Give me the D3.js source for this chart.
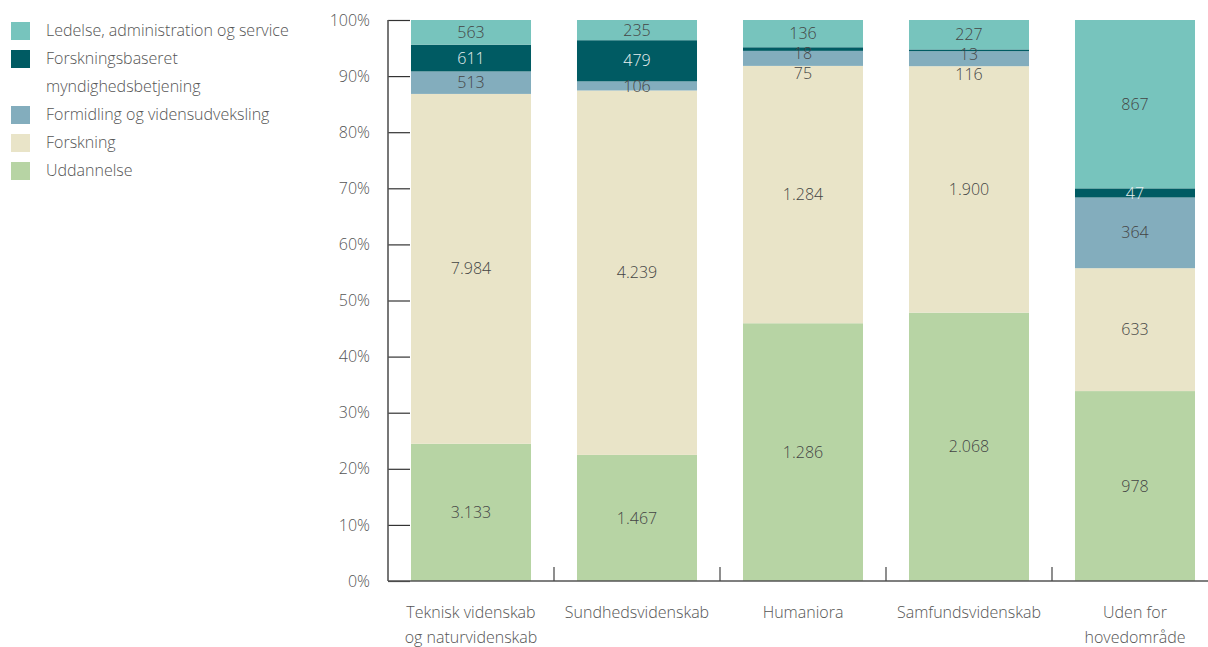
<!DOCTYPE html>
<html>
<head>
<meta charset="utf-8">
<script src="https://cdn.jsdelivr.net/npm/d3@7"></script>
<style>
  body { margin: 0; background: #fff; }
  text { font-family: "Open Sans", sans-serif; font-weight: 300; }
</style>
</head>
<body>
<div id="chart"></div>
<script>
// Données
var categories = ["Teknisk videnskab og naturvidenskab", "Sundhedsvidenskab", "Humaniora", "Samfundsvidenskab", "Uden for hovedområde"];
var catLines = [["Teknisk videnskab", "og naturvidenskab"], ["Sundhedsvidenskab"], ["Humaniora"], ["Samfundsvidenskab"], ["Uden for", "hovedområde"]];
var series = ["Uddannelse", "Forskning", "Formidling og vidensudveksling", "Forskningsbaseret myndighedsbetjening", "Ledelse, administration og service"];
var uddannelse = [3133, 1467, 1286, 2068, 978];
var forskning = [7984, 4239, 1284, 1900, 633];
var formidling = [513, 106, 75, 116, 364];
var myndighed = [611, 479, 18, 13, 47];
var ledelse = [563, 235, 136, 227, 867];
var yTicks = [0, 0.1, 0.2, 0.3, 0.4, 0.5, 0.6, 0.7, 0.8, 0.9, 1];

var colors = ["#b7d4a4", "#e9e4c8", "#83adbd", "#005b63", "#77c4bd"];
var labelColors = ["#444", "#444", "#444", "#e8f0f0", "#444"];

var W = 1208, H = 647;
var svg = d3.select("#chart").append("svg").attr("width", W).attr("height", H);

var values = [uddannelse, forskning, formidling, myndighed, ledelse];
var data = categories.map(function(c, i) {
  var row = {cat: c};
  series.forEach(function(s, j) { row[s] = values[j][i]; });
  return row;
});
var stacked = d3.stack().keys(series).offset(d3.stackOffsetExpand)(data);

var x = d3.scaleBand().domain(categories).range([388, 1218]).paddingInner(0.277).paddingOuter(0.1385);
var y = d3.scaleLinear().domain([0, 1]).range([581, 20]);

// Barres
var layer = svg.append("g").selectAll("g").data(stacked).enter().append("g")
  .attr("fill", function(d, i) { return colors[i]; });
layer.selectAll("rect").data(function(d) { return d; }).enter().append("rect")
  .attr("x", function(d) { return x(d.data.cat); })
  .attr("width", x.bandwidth())
  .attr("y", function(d) { return y(d[1]); })
  .attr("height", function(d) { return y(d[0]) - y(d[1]); });

// Étiquettes (décalées vers le bas si elles se chevauchent)
var fmt = d3.formatLocale({decimal: ",", thousands: ".", grouping: [3], currency: ["", ""]}).format(",");
var labels = [];
categories.forEach(function(c, ci) {
  var prev = -Infinity;
  for (var si = series.length - 1; si >= 0; si--) {
    var d = stacked[si][ci];
    var h = y(d[0]) - y(d[1]);
    var cy = Math.max((y(d[0]) + y(d[1])) / 2, prev + 20);
    prev = cy;
    labels.push({cat: c, y: cy, text: fmt(d.data[series[si]]), color: h > 6 ? labelColors[si] : "#444"});
  }
});
svg.append("g").selectAll("text").data(labels).enter().append("text")
  .attr("x", function(d) { return x(d.cat) + x.bandwidth() / 2; })
  .attr("y", function(d) { return d.y; })
  .attr("dy", "0.35em")
  .attr("text-anchor", "middle")
  .style("font-size", "16px")
  .attr("fill", function(d) { return d.color; })
  .text(function(d) { return d.text; });

// Axe Y
var yAxis = svg.append("g").attr("transform", "translate(388,0)")
  .call(d3.axisLeft(y).tickValues(yTicks).tickFormat(d3.format(".0%")).tickSize(-22).tickPadding(18));
yAxis.select(".domain").remove();
yAxis.selectAll(".tick line").attr("stroke", "#333").attr("stroke-width", 1.2);
yAxis.selectAll(".tick text").style("font-size", "16px").attr("fill", "#555")
  .style("font-family", "'Open Sans', sans-serif").style("font-weight", 300);
svg.append("line").attr("x1", 388).attr("x2", 388).attr("y1", 20).attr("y2", 581)
  .attr("stroke", "#555").attr("stroke-width", 1.6);

// Axe X
svg.append("line").attr("x1", 388).attr("x2", W).attr("y1", 581).attr("y2", 581)
  .attr("stroke", "#555").attr("stroke-width", 1.6);
svg.append("g").selectAll("line").data(d3.range(1, categories.length)).enter().append("line")
  .attr("x1", function(i) { return x.range()[0] + i * x.step(); })
  .attr("x2", function(i) { return x.range()[0] + i * x.step(); })
  .attr("y1", 567).attr("y2", 581)
  .attr("stroke", "#444").attr("stroke-width", 1.2);

var xl = svg.append("g").selectAll("text").data(categories).enter().append("text")
  .attr("x", function(d) { return x(d) + x.bandwidth() / 2; })
  .attr("y", 618)
  .attr("text-anchor", "middle")
  .style("font-size", "16px")
  .attr("fill", "#555");
xl.each(function(d, i) {
  var t = d3.select(this);
  catLines[i].forEach(function(l, k) {
    t.append("tspan").attr("x", x(d) + x.bandwidth() / 2).attr("dy", k ? 25 : 0).text(l);
  });
});

// Légende
var legend = [
  {c: colors[4], lines: ["Ledelse, administration og service"]},
  {c: colors[3], lines: ["Forskningsbaseret", "myndighedsbetjening"]},
  {c: colors[2], lines: ["Formidling og vidensudveksling"]},
  {c: colors[1], lines: ["Forskning"]},
  {c: colors[0], lines: ["Uddannelse"]}
];
var ly = 30;
legend.forEach(function(l) {
  svg.append("rect").attr("x", 11).attr("y", ly - 8).attr("width", 19).attr("height", 18).attr("fill", l.c);
  l.lines.forEach(function(line, k) {
    svg.append("text").attr("x", 46).attr("y", ly + k * 28).attr("dy", "0.35em")
      .style("font-size", "16px").attr("fill", "#555").text(line);
  });
  ly += 28 * l.lines.length;
});
</script>
</body>
</html>
